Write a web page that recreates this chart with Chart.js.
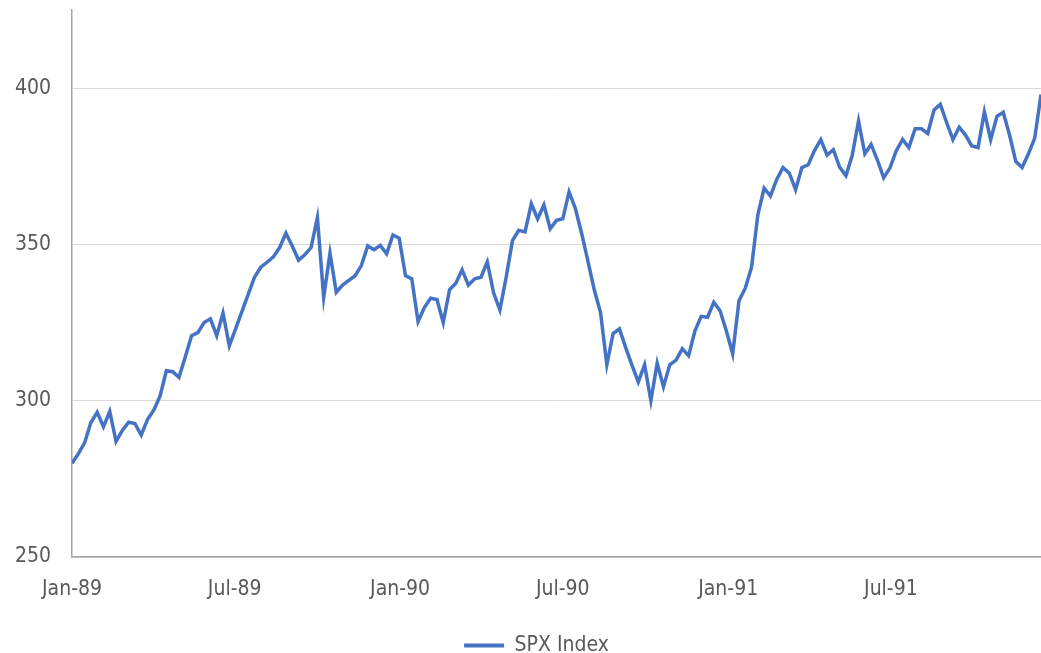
<!DOCTYPE html>
<html>
<head>
<meta charset="utf-8">
<title>SPX Index</title>
<script src="https://cdn.jsdelivr.net/npm/chart.js@4/dist/chart.umd.min.js"></script>
<style>
    html, body { margin: 0; padding: 0; background: #ffffff; }
    #spxChart { display: block; }
</style>
</head>
<body>
<canvas id="spxChart" width="1041" height="653"></canvas>
<script>
// Weekly closes, first week starting 1 Jan 1989
const startDate = "1989-01-01";
const spxWeekly = [
    280, 283, 286.5, 293, 296.3, 291.7, 296.6, 287, 290.5, 293.1,
    292.7, 289, 294, 297, 301.5, 309.6, 309.3, 307.5, 314, 320.8,
    321.8, 325, 326.2, 320.8, 328, 317.6, 323, 328.5, 334, 339.5,
    342.7, 344.3, 346, 349, 353.6, 349.5, 345, 346.7, 349, 358.6,
    333.1, 347.2, 334.7, 337, 338.5, 340, 343.3, 349.5, 348.3, 349.7,
    347, 353, 352, 340, 339, 325.3, 329.8, 332.8, 332.4, 325,
    335.5, 337.6, 341.9, 337, 339, 339.5, 344.4, 334.5, 329, 339.5,
    351.2, 354.5, 354, 363, 358.2, 362.6, 355, 357.7, 358.2, 366.8,
    361.5, 353.5, 344.6, 335.5, 328.2, 311.5, 321.5, 323, 317, 311.3,
    306, 311.5, 300, 312, 304.5, 311.5, 313, 316.6, 314.4, 322.4,
    327, 326.7, 331.5, 328.8, 322.3, 315, 332, 336, 342.7, 359.5,
    368, 365.5, 370.8, 374.6, 372.8, 367.5, 374.6, 375.5, 380, 383.5,
    378.6, 380.3, 374.7, 372, 378.5, 389.5, 379, 382, 377, 371.3,
    374.5, 380, 383.6, 381, 387, 387, 385.5, 393, 394.8, 389,
    383.5, 387.5, 385, 381.5, 381, 392.4, 383.5, 391, 392.3, 385,
    376.5, 374.6, 379, 384, 398
];

// Axis labels
const tickDates = ["1989-01-01", "1989-07-01", "1990-01-01", "1990-07-01", "1991-01-01", "1991-07-01"];
const tickLabels = ["Jan-89", "Jul-89", "Jan-90", "Jul-90", "Jan-91", "Jul-91"];
const yTicks = [250, 300, 350, 400];
const yMin = 250;
const yMax = 425;

const DAY_MS = 86400000;
const daysFromStart = (d) => (Date.parse(d) - Date.parse(startDate)) / DAY_MS;

// x in days from the start, one point a week
const points = spxWeekly.map((v, i) => ({ x: i * 7, y: v }));
const tickDays = tickDates.map(daysFromStart);
const lastDay = (spxWeekly.length - 1) * 7;

const lineBlue = "#4472C4";
const textGrey = "#595959";
const axisFont = { family: "'DejaVu Sans Condensed', 'Liberation Sans', sans-serif", size: 21 };

// nudge the legend a little right of centre
const legendShift = {
    id: "legendShift",
    afterLayout(chart) {
        chart.legend.left += 16;
        chart.legend.right += 16;
    }
};

const ctx = document.getElementById("spxChart").getContext("2d");

new Chart(ctx, {
    type: "line",
    data: {
        datasets: [{
            label: "SPX Index",
            data: points,
            borderColor: lineBlue,
            backgroundColor: lineBlue,
            borderWidth: 3.5,
            pointRadius: 0,
            tension: 0,
            fill: false
        }]
    },
    options: {
        responsive: false,
        animation: false,
        layout: { padding: { top: 10, right: 0, bottom: -13, left: 0 } },
        scales: {
            x: {
                type: "linear",
                min: 0,
                max: lastDay,
                afterBuildTicks: (scale) => {
                    scale.ticks = tickDays.map(v => ({ value: v }));
                },
                afterFit: (scale) => { scale.height = 74; },
                ticks: {
                    autoSkip: false,
                    maxRotation: 0,
                    padding: 20,
                    color: textGrey,
                    font: axisFont,
                    callback: (value) => tickLabels[tickDays.indexOf(value)] ?? ""
                },
                grid: { display: false, drawTicks: false },
                border: { display: true, color: "#a6a6a6", width: 1.5 }
            },
            y: {
                min: yMin,
                max: yMax,
                afterBuildTicks: (scale) => {
                    scale.ticks = yTicks.map(v => ({ value: v }));
                },
                afterFit: (scale) => {
                    scale.width = 72;
                    scale.paddingTop = 0;
                    scale.paddingBottom = 0;
                },
                ticks: {
                    padding: 21,
                    color: textGrey,
                    font: axisFont
                },
                grid: { color: "#d9d9d9", lineWidth: 1, drawTicks: false },
                border: { display: true, color: "#a6a6a6", width: 1.5 }
            }
        },
        plugins: {
            legend: {
                position: "bottom",
                labels: {
                    color: textGrey,
                    font: axisFont,
                    boxWidth: 40,
                    boxHeight: 4,
                    padding: 4,
                    generateLabels: (chart) =>
                        Chart.defaults.plugins.legend.labels.generateLabels(chart)
                            .map(item => ({ ...item, lineWidth: 0, fillStyle: lineBlue }))
                }
            },
            tooltip: { enabled: false }
        }
    },
    plugins: [legendShift]
});
</script>
</body>
</html>
